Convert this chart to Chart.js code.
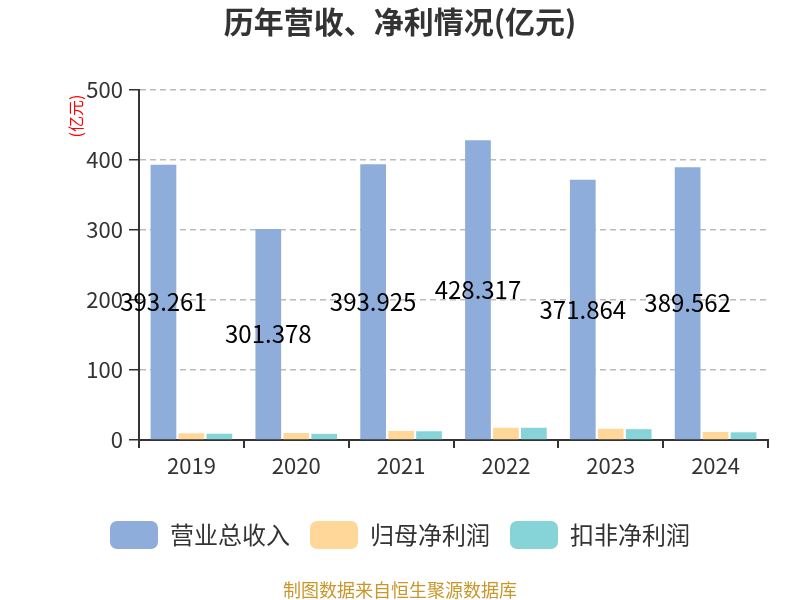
<!DOCTYPE html>
<html lang="zh">
<head>
<meta charset="UTF-8">
<title>历年营收、净利情况(亿元)</title>
<script src="https://cdn.jsdelivr.net/npm/chart.js"></script>
<style>
  body { margin: 0; background: #fff; }
  #wrap { width: 800px; height: 600px; }
</style>
</head>
<body>
<div id="wrap"><canvas id="chart"></canvas></div>
<script>
const years = ['2019', '2020', '2021', '2022', '2023', '2024'];
const revenue = [393.261, 301.378, 393.925, 428.317, 371.864, 389.562];
const netProfit = [9.6, 10.0, 13.0, 17.5, 16.0, 11.5];
const deductedProfit = [9.0, 8.8, 12.5, 17.5, 15.5, 11.0];
const seriesNames = ['营业总收入', '归母净利润', '扣非净利润'];

const FONT = '"Noto Sans CJK SC", "Noto Sans", sans-serif';

// value labels in the middle of the revenue bars, unit label, footer text
const extras = {
  id: 'extras',
  afterDatasetsDraw(chart) {
    const ctx = chart.ctx;
    const meta = chart.getDatasetMeta(0);
    ctx.save();
    ctx.font = '24px ' + FONT;
    ctx.fillStyle = '#000';
    ctx.textAlign = 'center';
    ctx.textBaseline = 'middle';
    meta.data.forEach((bar, i) => {
      const mid = (bar.y + bar.base) / 2;
      ctx.fillText(revenue[i].toFixed(3), bar.x, mid);
    });

    ctx.font = '18px ' + FONT;
    ctx.fillStyle = '#c9962c';
    ctx.fillText('制图数据来自恒生聚源数据库', 400, 590);

    ctx.translate(76, 116);
    ctx.rotate(-Math.PI / 2);
    ctx.font = '16px ' + FONT;
    ctx.fillStyle = 'red';
    ctx.fillText('(亿元)', 0, 0);
    ctx.restore();
  }
};

new Chart(document.getElementById('chart'), {
  type: 'bar',
  data: {
    labels: years,
    datasets: [
      { label: seriesNames[0], data: revenue, backgroundColor: '#8eaddb' },
      { label: seriesNames[1], data: netProfit, backgroundColor: '#ffd899' },
      { label: seriesNames[2], data: deductedProfit, backgroundColor: '#86d4d8' }
    ]
  },
  options: {
    responsive: true,
    maintainAspectRatio: false,
    animation: false,
    categoryPercentage: 0.8,
    barPercentage: 0.92,
    layout: { padding: { left: 32, right: 32, top: 0, bottom: 41 } },
    plugins: {
      title: {
        display: true,
        text: '历年营收、净利情况(亿元)',
        color: '#333',
        font: { family: FONT, size: 30, weight: 'bold' },
        padding: { top: 4, bottom: 50 }
      },
      legend: {
        position: 'bottom',
        labels: {
          color: '#333',
          font: { family: FONT, size: 24 },
          boxWidth: 48,
          boxHeight: 28,
          useBorderRadius: true,
          borderRadius: 7,
          padding: 20
        }
      },
      tooltip: { enabled: false }
    },
    scales: {
      x: {
        afterFit(scale) { scale.height = 61; },
        grid: {
          display: true,
          drawOnChartArea: false,
          offset: true,
          color: '#333',
          tickLength: 8,
          lineWidth: 2
        },
        border: { color: '#333', width: 2 },
        ticks: { color: '#333', font: { family: FONT, size: 22 }, padding: 4 }
      },
      y: {
        min: 0,
        max: 500,
        afterFit(scale) { scale.width = 107; },
        ticks: { stepSize: 100, color: '#333', font: { family: FONT, size: 22 }, padding: 6 },
        grid: {
          color: '#bbb',
          lineWidth: 1.5,
          tickLength: 10,
          tickColor: '#333',
          tickBorderDash: []
        },
        border: { color: '#333', width: 2, dash: [6, 4] }
      }
    }
  },
  plugins: [extras]
});
</script>
</body>
</html>
